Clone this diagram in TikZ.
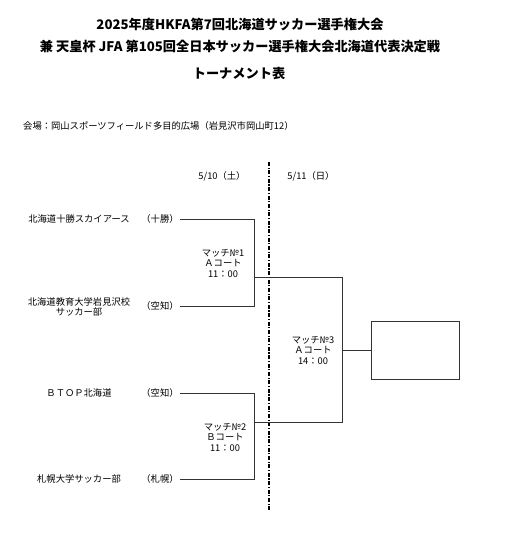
\documentclass[tikz,border=0pt]{standalone}
\usepackage{fontspec}
\setmainfont{Noto Sans CJK JP}
\begin{document}
\begin{tikzpicture}[x=1pt,y=-1pt,
  title/.style={font=\fontsize{13.2}{15}\selectfont\bfseries, text=black, inner sep=0pt},
  body/.style={font=\fontsize{9.3}{10.5}\selectfont, text=black, inner sep=0pt, align=center},
  bline/.style={draw=black!80, line width=0.8pt},
  divider/.style={draw=black, line width=1.6pt, dash pattern=on 4pt off 1.6pt on 1.2pt off 1.6pt}]
\useasboundingbox (0,0) rectangle (514,545);
% titles
\node[title] (t1) at (240,24) {2025年度HKFA第7回北海道サッカー選手権大会};
\node[title] (t2) at (240,46) {兼 天皇杯 JFA 第105回全日本サッカー選手権大会北海道代表決定戦};
\node[title] (t3) at (239,73) {トーナメント表};
\node[body, anchor=west] (venue) at (23,126) {会場：岡山スポーツフィールド多目的広場（岩見沢市岡山町12）};
% dates
\node[body] (d1) at (222,176) {5/10（土）};
\node[body] (d2) at (311,176) {5/11（日）};
% divider
\coordinate (dvt) at (269,162);
\coordinate (dvb) at (269,510);
\draw[divider] (dvt) -- (dvb);
% teams
\node[body] (n1) at (79,219) {北海道十勝スカイアース};
\node[body] (r1) at (160,219) {（十勝）};
\node[body] (n2) at (79,307) {北海道教育大学岩見沢校\\サッカー部};
\node[body] (r2) at (160,306) {（空知）};
\node[body] (n3) at (79,393) {ＢＴＯＰ北海道};
\node[body] (r3) at (160,393) {（空知）};
\node[body] (n4) at (79,479) {札幌大学サッカー部};
\node[body] (r4) at (160,479) {（札幌）};
% bracket coordinates
\coordinate (s1) at (180,219); \coordinate (c1) at (254,219);
\coordinate (s2) at (180,306); \coordinate (c2) at (254,306);
\coordinate (s3) at (180,393); \coordinate (c3) at (254,393);
\coordinate (s4) at (180,479); \coordinate (c4) at (254,479);
\coordinate (m1) at (254,277); \coordinate (k1) at (342,277);
\coordinate (m2) at (254,422); \coordinate (k2) at (342,422);
\coordinate (m3) at (342,350);
\node[draw=black!80, line width=0.8pt, minimum width=88pt, minimum height=58pt, inner sep=0pt] (win) at (415,350) {};
\draw[bline] (s1) -- (c1) -- (c2) -- (s2);
\draw[bline] (s3) -- (c3) -- (c4) -- (s4);
\draw[bline] (m1) -- (k1) -- (k2) -- (m2);
\draw[bline] (m3) -- (win.west);
% match labels
\node[body] (mt1) at (223,263) {マッチ№1\\Ａコート\\11：00};
\node[body] (mt2) at (225,437) {マッチ№2\\Ｂコート\\11：00};
\node[body] (mt3) at (313,350) {マッチ№3\\Ａコート\\14：00};
\end{tikzpicture}
\end{document}
